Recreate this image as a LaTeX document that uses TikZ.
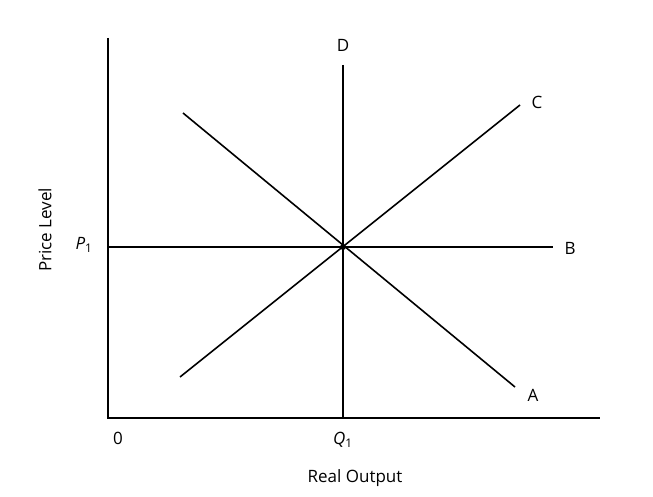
\documentclass[tikz,border=0pt]{standalone}
\usepackage{fontspec}
\setmainfont{Open Sans}
\begin{document}
\begin{tikzpicture}[x=1pt,y=-1pt,line width=1.6pt,
  lab/.style = {font=\fontsize{17}{20}\selectfont}]
        \useasboundingbox (0,0) rectangle (653,497);
        \coordinate (o) at (108,418);
        \coordinate (ytop) at (108,38);
        \coordinate (xend) at (600,418);
        \coordinate (e) at (343,247);
        \coordinate (dtop) at (343,65);
        \coordinate (bl) at (108,247);
        \coordinate (br) at (553,247);
        \coordinate (cl) at (180,377);
        \coordinate (cr) at (520,105);
        \coordinate (al) at (183,113);
        \coordinate (ar) at (515,387);
        \draw (ytop) -- (o) -- (xend);
        \draw (dtop) -- (343,418);
        \draw (bl) -- (br);
        \draw (cl) -- (cr);
        \draw (al) -- (ar);
        \fill (e) circle (3pt);
        \node[lab] (d) at (343,45) {D};
        \node[lab] (c) at (537,102) {C};
        \node[lab] (b) at (570,248) {B};
        \node[lab] (a) at (533,395) {A};
        \node[lab] (p) at (84,245) {\textit{P}\textsubscript{1}};
        \node[lab] (q) at (343,440) {\textit{Q}\textsubscript{1}};
        \node[lab] (z) at (118,438) {0};
        \node[lab] (xl) at (355,478) {Real Output};
        \node[lab,rotate=90] (yl) at (45,230) {Price Level};
\end{tikzpicture}
\end{document}
